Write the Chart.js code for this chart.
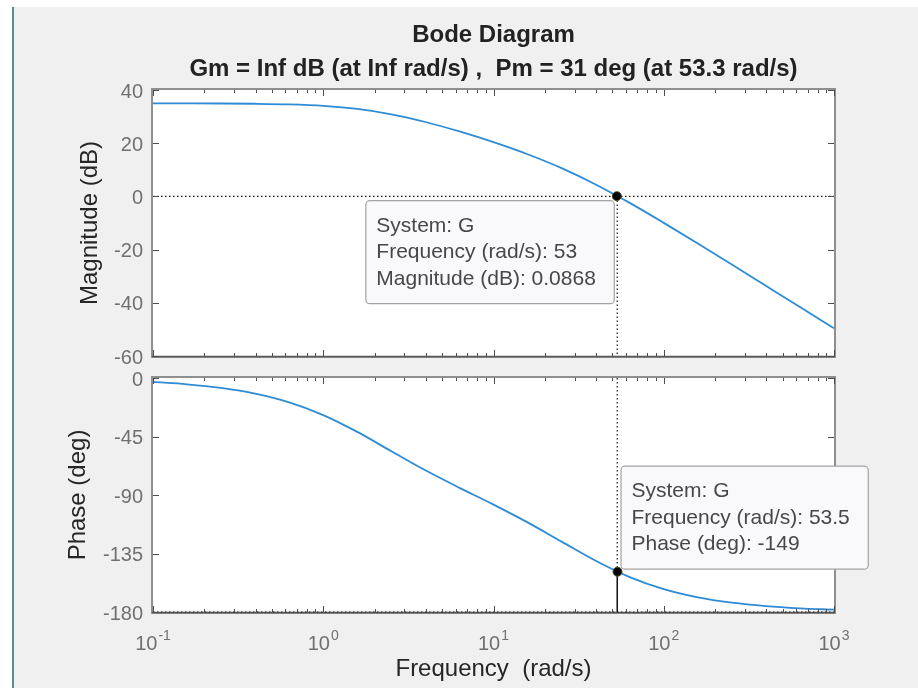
<!DOCTYPE html>
<html>
<head>
<meta charset="utf-8">
<title>Bode Diagram</title>
<script src="https://cdn.jsdelivr.net/npm/chart.js@4.4.1/dist/chart.umd.min.js"></script>
<style>
  html, body { margin: 0; padding: 0; background: #fff; }
  #fig {
    position: absolute; left: 12px; top: 7px; width: 906px; height: 681px;
    background: #f0f0f0; border-left: 2px solid #5b8a95; box-sizing: border-box;
  }
  .pane { position: absolute; left: 0; width: 918px; }
  #magPane { top: 0; height: 364px; }
  #phasePane { top: 364px; height: 324px; }
</style>
</head>
<body>
<div id="fig"></div>
<div class="pane" id="magPane"><canvas id="magChart"></canvas></div>
<div class="pane" id="phasePane"><canvas id="phaseChart"></canvas></div>

<script>
const FONT = '"Liberation Sans", Arial, Helvetica, sans-serif';
Chart.defaults.font.family = FONT;

// frequency response of G, sampled every 0.2 decade (rad/s, dB, deg)
const freq = [0.1, 0.1585, 0.2512, 0.3981, 0.631, 1, 1.585, 2.512, 3.981, 6.31,
  10, 15.85, 25.12, 39.81, 63.1, 100, 158.5, 251.2, 398.1, 631, 1000];
const magDb = [34.99, 34.97, 34.93, 34.83, 34.59, 34.03, 32.87, 30.86, 27.97, 24.41,
  20.38, 15.85, 10.63, 4.50, -2.44, -9.95, -17.73, -25.64, -33.61, -41.59, -49.59];
const phaseDeg = [-3.05, -4.84, -7.65, -12.03, -18.74, -28.51, -41.47, -56.34, -71.02, -84.48,
  -97.42, -111.06, -125.87, -140.58, -153.12, -162.41, -168.74, -172.84, -175.47, -177.14, -178.2];

// axis ticks
const magTicks = [40, 20, 0, -20, -40, -60];
const phaseTicks = [0, -45, -90, -135, -180];
const freqDecades = [0.1, 1, 10, 100, 1000];
const decadeExp = ['-1', '0', '1', '2', '3'];

// stability margins and data tips
const titleText = 'Bode Diagram';
const subtitleText = 'Gm = Inf dB (at Inf rad/s) ,  Pm = 31 deg (at 53.3 rad/s)';
const pmFreq = 53.3;
const pmDeg = 31;
const magTipFreq = 53;
const magTipValue = 0.0868;
const phaseTipFreq = 53.5;
const phaseTipValue = -149;

const lineBlue = '#2e8bd6';

// --- drawing helpers ---
function drawFrame(chart) {
  const { ctx, chartArea: a } = chart;
  ctx.save();
  ctx.fillStyle = '#fff';
  ctx.fillRect(a.left, a.top, a.width, a.height);
  ctx.strokeStyle = '#8f8f8f';
  ctx.lineWidth = 2;
  ctx.strokeRect(a.left - 1, a.top - 1, a.width + 2, a.height + 2);
  ctx.strokeStyle = '#5a5a5a';
  ctx.lineWidth = 1.5;
  ctx.beginPath();
  ctx.moveTo(a.left - 1, a.bottom + 0.5);
  ctx.lineTo(a.right + 1, a.bottom + 0.5);
  ctx.stroke();
  ctx.restore();
}

function drawTickMarks(chart) {
  const { ctx, chartArea: a, scales: { x, y } } = chart;
  ctx.save();
  ctx.strokeStyle = '#4d4d4d';
  ctx.lineWidth = 1;
  ctx.beginPath();
  freqDecades.forEach((d, i) => {
    for (let m = 1; m <= 9; m++) {
      if (m > 1 && i === freqDecades.length - 1) break;
      const px = Math.round(x.getPixelForValue(d * m)) + 0.5;
      const len = m === 1 ? 6 : 3;
      ctx.moveTo(px, a.top); ctx.lineTo(px, a.top + len);
      ctx.moveTo(px, a.bottom); ctx.lineTo(px, a.bottom - len);
    }
  });
  y.ticks.forEach(t => {
    const py = Math.round(y.getPixelForValue(t.value)) + 0.5;
    ctx.moveTo(a.left, py); ctx.lineTo(a.left + 6, py);
    ctx.moveTo(a.right, py); ctx.lineTo(a.right - 6, py);
  });
  ctx.stroke();
  ctx.restore();
}

function dottedLine(ctx, x1, y1, x2, y2) {
  ctx.save();
  ctx.strokeStyle = '#1a1a1a';
  ctx.lineWidth = 1.2;
  ctx.setLineDash([1.5, 2.5]);
  ctx.beginPath();
  ctx.moveTo(x1, y1);
  ctx.lineTo(x2, y2);
  ctx.stroke();
  ctx.restore();
}

// MATLAB-style data tip box anchored at a point
function drawTip(chart, fx, fy, lines, below) {
  const { ctx, scales: { x, y } } = chart;
  const px = x.getPixelForValue(fx);
  const py = y.getPixelForValue(fy);
  ctx.save();
  ctx.font = '21px ' + FONT;
  const w = Math.max(...lines.map(t => ctx.measureText(t).width)) + 29;
  const h = 103;
  const bx = below ? px - 3 - w : px + 3;
  const by = below ? py + 4 : py - 3 - h;
  ctx.beginPath();
  ctx.roundRect(bx + 0.5, by + 0.5, w, h, 4);
  ctx.fillStyle = '#f9f9fc';
  ctx.fill();
  ctx.strokeStyle = '#a3a3a3';
  ctx.lineWidth = 1.2;
  ctx.stroke();
  ctx.fillStyle = '#474747';
  ctx.textAlign = 'left';
  ctx.textBaseline = 'middle';
  lines.forEach((t, i) => ctx.fillText(t, bx + 11, by + 26 + i * 26.5));
  ctx.restore();
}

const magPlugin = {
  id: 'magDecor',
  beforeDatasetsDraw(chart) {
    const { ctx, chartArea: a, scales: { x, y } } = chart;
    drawFrame(chart);
    const y0 = y.getPixelForValue(0);
    const xc = x.getPixelForValue(pmFreq);
    dottedLine(ctx, a.left, y0, a.right, y0);
    dottedLine(ctx, xc, y0, xc, a.bottom);
  },
  afterDatasetsDraw(chart) {
    drawTickMarks(chart);
  },
  afterDraw(chart) {
    const { ctx, chartArea: a } = chart;
    const cx = (a.left + a.right) / 2;
    ctx.save();
    ctx.fillStyle = '#222';
    ctx.textAlign = 'center';
    ctx.textBaseline = 'alphabetic';
    ctx.font = 'bold 24px ' + FONT;
    ctx.fillText(titleText, cx, 42);
    ctx.fillText(subtitleText, cx, 76);
    ctx.restore();
    drawTip(chart, magTipFreq, magTipValue, [
      'System: G',
      'Frequency (rad/s): ' + magTipFreq,
      'Magnitude (dB): ' + magTipValue
    ], true);
  }
};

const phasePlugin = {
  id: 'phaseDecor',
  beforeDatasetsDraw(chart) {
    const { ctx, chartArea: a, scales: { x, y } } = chart;
    drawFrame(chart);
    const xc = x.getPixelForValue(pmFreq);
    const yPm = y.getPixelForValue(-180 + pmDeg);
    const yBot = y.getPixelForValue(-180);
    dottedLine(ctx, a.left, yBot, a.right, yBot);
    dottedLine(ctx, xc, a.top, xc, yPm);
    ctx.save();
    ctx.strokeStyle = '#111';
    ctx.lineWidth = 1.5;
    ctx.beginPath();
    ctx.moveTo(xc, yPm);
    ctx.lineTo(xc, yBot);
    ctx.stroke();
    ctx.restore();
  },
  afterDatasetsDraw(chart) {
    drawTickMarks(chart);
  },
  afterDraw(chart) {
    const { ctx, chartArea: a, scales: { x } } = chart;
    // decade labels with raised exponents
    ctx.save();
    ctx.fillStyle = '#707070';
    ctx.textAlign = 'left';
    ctx.textBaseline = 'alphabetic';
    freqDecades.forEach((d, i) => {
      const px = x.getPixelForValue(d);
      ctx.font = '20px ' + FONT;
      const wb = ctx.measureText('10').width;
      ctx.font = '14px ' + FONT;
      const we = ctx.measureText(decadeExp[i]).width;
      const left = px - (wb + we + 1) / 2;
      ctx.font = '20px ' + FONT;
      ctx.fillText('10', left, a.bottom + 38);
      ctx.font = '14px ' + FONT;
      ctx.fillText(decadeExp[i], left + wb + 1, a.bottom + 28);
    });
    ctx.restore();
    drawTip(chart, phaseTipFreq, phaseTipValue, [
      'System: G',
      'Frequency (rad/s): ' + phaseTipFreq,
      'Phase (deg): ' + phaseTipValue
    ], false);
  }
};

function yAxis(ticks, min, max, label, titlePad) {
  return {
    min, max,
    afterFit: s => {
      s.width = 153;
      // keep the plot box where the layout padding puts it
      s.paddingTop = 0;
      s.paddingBottom = 0;
    },
    afterBuildTicks: s => { s.ticks = ticks.map(v => ({ value: v })); },
    grid: { display: false, drawTicks: false },
    border: { display: false },
    ticks: { color: '#707070', font: { size: 20 }, padding: 10, labelOffset: 2 },
    title: { display: true, text: label, color: '#262626', font: { size: 24 }, padding: { top: titlePad, bottom: 0 } }
  };
}

function markerSet(fx, fy) {
  return {
    type: 'scatter',
    data: [{ x: fx, y: fy }],
    pointRadius: 4.5,
    pointBackgroundColor: '#000',
    pointBorderColor: '#4a4a1c',
    pointBorderWidth: 1,
    order: 0
  };
}

function curveSet(values) {
  return {
    data: freq.map((f, i) => ({ x: f, y: values[i] })),
    borderColor: lineBlue,
    borderWidth: 1.8,
    pointRadius: 0,
    cubicInterpolationMode: 'monotone',
    order: 1
  };
}

new Chart(document.getElementById('magChart'), {
  type: 'line',
  data: { datasets: [markerSet(magTipFreq, magTipValue), curveSet(magDb)] },
  options: {
    responsive: true,
    maintainAspectRatio: false,
    animation: false,
    events: [],
    layout: { padding: { top: 90, right: 84, bottom: 8, left: 0 } },
    plugins: { legend: { display: false }, tooltip: { enabled: false } },
    scales: {
      x: { type: 'logarithmic', min: 0.1, max: 1000, display: false },
      y: yAxis(magTicks, -60, 40, 'Magnitude (dB)', 76)
    }
  },
  plugins: [magPlugin]
});

new Chart(document.getElementById('phaseChart'), {
  type: 'line',
  data: { datasets: [markerSet(phaseTipFreq, phaseTipValue), curveSet(phaseDeg)] },
  options: {
    responsive: true,
    maintainAspectRatio: false,
    animation: false,
    events: [],
    layout: { padding: { top: 14, right: 84, bottom: 0, left: 0 } },
    plugins: { legend: { display: false }, tooltip: { enabled: false } },
    scales: {
      x: {
        type: 'logarithmic', min: 0.1, max: 1000,
        afterFit: s => { s.height = 76; },
        grid: { display: false, drawTicks: false },
        border: { display: false },
        ticks: { display: false },
        title: { display: true, text: 'Frequency  (rad/s)', color: '#262626', font: { size: 24 }, padding: { top: 0, bottom: 4 } }
      },
      y: yAxis(phaseTicks, -180, 0, 'Phase (deg)', 64)
    }
  },
  plugins: [phasePlugin]
});
</script>
</body>
</html>
